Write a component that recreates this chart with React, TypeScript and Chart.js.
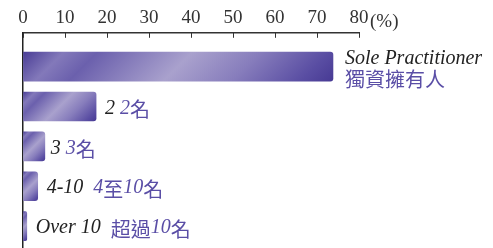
import React, { useEffect, useRef } from "react";
import { Chart, registerables } from "chart.js";
Chart.register(...registerables);

const categories = ["Sole Practitioner", "2", "3", "4-10", "Over 10"];
const chineseLabels = ["獨資擁有人", "2名", "3名", "4至10名", "超過10名"];
const values = [73.8, 17.4, 5.2, 3.5, 0.9];
const xMax = 80;
const xStep = 10;
const unitLabel = "(%)";

const SERIF = '"Liberation Serif", "DejaVu Serif", serif';
const CJK = '"Noto Sans CJK TC", "Noto Sans CJK SC", sans-serif';
const FS = 20;
const TICK_FS = 19;

function drawMixed(c: CanvasRenderingContext2D, text: string, x: number, y: number, color: string, size: number) {
  const runs = text.match(/[\u3400-\u9fff]+|[^\u3400-\u9fff]+/g) || [];
  let cx = x;
  c.fillStyle = color;
  for (const r of runs) {
    const isCjk = /[\u3400-\u9fff]/.test(r);
    c.font = isCjk ? `${size}px ${CJK}` : `italic ${size}px ${SERIF}`;
    c.fillText(r, cx, isCjk ? y + 1 : y);
    cx += c.measureText(r).width;
  }
  return cx;
}

export default function App() {
  const ref = useRef<HTMLCanvasElement>(null);
  useEffect(() => {
    document.body.style.margin = "0";
    const canvas = ref.current!;
    const labelPlugin = {
      id: "barLabels",
      afterDatasetsDraw(chart: any) {
        const c: CanvasRenderingContext2D = chart.ctx;
        const meta = chart.getDatasetMeta(0);
        const xs = chart.scales.x;
        const top = chart.chartArea.top;
        c.save();
        c.strokeStyle = "#333";
        c.lineWidth = 1;
        xs.ticks.forEach((t: any) => {
          const px = Math.round(xs.getPixelForValue(t.value)) + 0.5;
          c.beginPath();
          c.moveTo(px, top);
          c.lineTo(px, top + 5);
          c.stroke();
        });
        c.textBaseline = "middle";
        c.textAlign = "left";
        meta.data.forEach((bar: any, i: number) => {
          if (i === 0) {
            const x = bar.x + 12;
            c.font = `italic ${FS}px ${SERIF}`;
            c.fillStyle = "#222";
            c.fillText(categories[i], x, bar.y - 8);
            drawMixed(c, chineseLabels[i], x, bar.y + 12, "#5a4ea6", FS);
          } else {
            const x = bar.x + (i === 2 ? 6 : 9);
            c.font = `italic ${FS}px ${SERIF}`;
            c.fillStyle = "#222";
            c.fillText(categories[i], x, bar.y + 2);
            const w = c.measureText(categories[i]).width;
            const gap = i <= 2 ? 5 : 10;
            drawMixed(c, chineseLabels[i], x + w + gap, bar.y + 2, "#5a4ea6", FS);
          }
        });
        c.font = `${TICK_FS}px ${SERIF}`;
        c.fillStyle = "#333";
        c.textBaseline = "alphabetic";
        const lx = xs.getPixelForValue(xMax) + 11;
        c.fillText(unitLabel, lx, 27);
        c.restore();
      },
    };

    const chart = new Chart(canvas, {
      type: "bar",
      data: {
        datasets: [
          {
            data: values.map((v, i) => ({ x: v, y: i })),
            backgroundColor: (context: any) => {
              const ch = context.chart;
              const sc = ch.scales;
              if (!sc || !sc.x || !sc.y || context.dataIndex === undefined) return "#5a4ea6";
              const v = values[context.dataIndex];
              const x0 = sc.x.getPixelForValue(0);
              const x1 = sc.x.getPixelForValue(v);
              const yc = sc.y.getPixelForValue(context.dataIndex);
              if (![x0, x1, yc].every((n) => Number.isFinite(n))) return "#5a4ea6";
              const h = 29;
              const top = yc - h / 2;
              const d = Math.max(1, (x1 - x0 + h) / 2);
              const g = ch.ctx.createLinearGradient(x0, top, x0 + d, top + d);
              g.addColorStop(0, "#4a3d96");
              g.addColorStop(0.12, "#8379ba");
              g.addColorStop(0.22, "#6b60ad");
              g.addColorStop(0.5, "#a9a1cd");
              g.addColorStop(0.7, "#877dbc");
              g.addColorStop(0.9, "#5a4ea3");
              g.addColorStop(1, "#473a94");
              return g;
            },
            borderRadius: 3,
            borderSkipped: "start",
            barThickness: 29,
          },
        ],
      },
      options: {
        indexAxis: "y",
        animation: false,
        responsive: false,
        maintainAspectRatio: false,
        layout: { padding: { left: 15, right: 134, top: 4, bottom: 0 } },
        plugins: { legend: { display: false }, tooltip: { enabled: false } },
        scales: {
          x: {
            type: "linear",
            position: "top",
            min: 0,
            max: xMax,
            ticks: { stepSize: xStep, color: "#333", font: { family: SERIF, size: TICK_FS }, padding: 3, maxRotation: 0 },
            grid: { display: true, drawOnChartArea: false, drawTicks: false, color: "#333", lineWidth: 1 },
            border: { color: "#333", width: 1.5 },
          },
          y: {
            type: "linear",
            reverse: true,
            offset: false,
            min: -0.85,
            max: 4.55,
            ticks: { display: false },
            grid: { display: false, offset: false },
            border: { color: "#222", width: 1.5 },
          },
        },
      },
      plugins: [labelPlugin],
    } as any);
    return () => chart.destroy();
  }, []);
  return (
    <div style={{ position: "relative", width: 493, height: 248 }}>
      <canvas ref={ref} width={493} height={248} style={{ display: "block" }} />
    </div>
  );
}
